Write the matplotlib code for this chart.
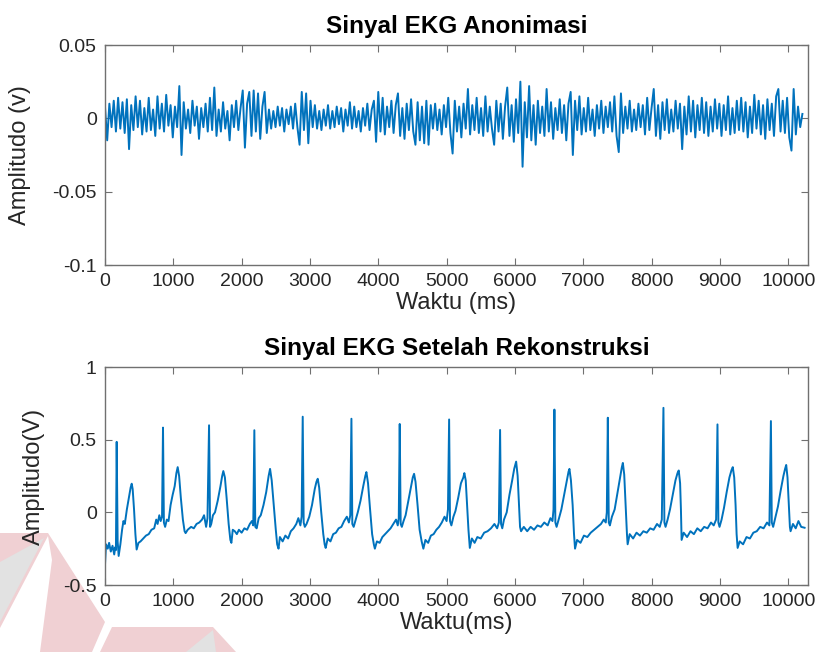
import numpy as np
import matplotlib
matplotlib.use("Agg")
from matplotlib import pyplot as plt
from matplotlib.patches import Polygon

# top: anonymised signal, one sample every 32 ms, values in mV
noise_step = 32
noise_mv = [
    8, -15, 10, -6, 12, -9, 14, -7, 11, -10,
    13, -21, 9, -8, 15, -6, 12, -11, 7, -9,
    14, -8, 6, -12, 15, -7, 10, -9, 16, -5,
    9, -13, 8, -6, 22, -25, 11, -7, 6, -10,
    12, -5, 8, -14, 7, -6, 10, -9, 14, -8,
    21, -12, 6, -9, 11, -7, 5, -15, 9, -6,
    12, -8, 7, 19, -20, 10, 18, -12, 19, -9,
    17, -14, 8, 18, -10, 6, -7, 5, -6, 8,
    -5, 7, -9, 6, -4, 8, -7, 10, -6, -18,
    18, -8, 17, -17, 12, -6, 9, -7, 5, -8,
    6, -5, 9, -7, 5, -6, 8, -4, 7, -9,
    6, -5, 11, -7, 8, -6, 5, -9, 7, -5,
    10, -8, 6, 12, -16, 18, -9, 14, -11, 8,
    -6, 12, -10, 9, 17, -12, 7, -14, 10, -8,
    13, -9, -18, 11, -15, 8, -17, 12, -18, 9,
    -7, 10, -8, 6, -11, 9, -6, 14, -10, -24,
    12, -9, 8, -13, 10, -7, 20, -11, 9, -8,
    14, -10, 7, -12, 15, -9, 8, -7, -18, 12,
    -9, 10, -14, 8, 21, -12, 9, -16, 13, -10,
    25, -33, 11, -13, 22, -15, 9, -18, 12, -10,
    8, -12, 20, -9, 11, -14, 7, -8, 13, -10,
    9, -15, 10, 18, -25, 12, -8, 15, -11, 7,
    -9, 14, -8, 6, -12, 9, -7, 12, -10, 8,
    -6, 11, -9, 15, -12, -23, 17, -10, 8, -7,
    12, -9, 6, -8, 10, -6, 9, -11, 14, -8,
    7, 20, -12, 9, -14, 11, -8, 13, -10, 6,
    -9, 12, -7, 10, -21, 8, -11, 15, -9, 12,
    -13, 9, -8, 14, -10, 11, -12, 8, -9, 13,
    -7, 10, -12, 9, -8, 15, -11, 7, -10, 12,
    -8, 14, -9, 11, -13, 8, -10, 16, -7, 12,
    -11, 9, -14, 13, -8, 10, -12, 15, 20, -9,
    12, -10, 14, -13, -22, 20, -11, 8, -6, 3,
]

# bottom: reconstructed ECG, (time ms, amplitude V)
ecg_t = [
    0, 15, 40, 60, 85, 110, 135, 150, 160,
    171, 185, 200, 225, 250, 270, 290, 320, 350, 375, 391, 405, 425, 445, 463,
    490, 520, 560, 600, 640, 680, 720, 750, 770, 795, 815, 835,
    849, 862, 880, 905, 930, 960, 990, 1020, 1045, 1064, 1085, 1110, 1140,
    1165, 1180, 1210, 1260, 1300, 1340, 1380, 1420, 1450, 1480, 1500,
    1523, 1538, 1555, 1580, 1610, 1650, 1690, 1715, 1732, 1755, 1780, 1810,
    1835, 1850, 1870, 1900, 1930, 1960, 2000, 2040, 2080, 2120, 2150, 2170,
    2186, 2200, 2220, 2250, 2280, 2320, 2360, 2395, 2416, 2440, 2470, 2500,
    2520, 2540, 2560, 2600, 2640, 2680, 2720, 2760, 2800, 2830, 2860, 2878,
    2894, 2908, 2925, 2950, 2990, 3030, 3070, 3095, 3114, 3135, 3165, 3195,
    3215, 3230, 3260, 3300, 3340, 3380, 3420, 3460, 3500, 3540, 3570, 3590,
    3607, 3620, 3640, 3670, 3700, 3740, 3780, 3810, 3826, 3850, 3880, 3910,
    3935, 3950, 3980, 4020, 4060, 4100, 4140, 4180, 4220, 4260, 4285, 4300,
    4314, 4328, 4345, 4370, 4400, 4440, 4480, 4505, 4524, 4545, 4575, 4605,
    4635, 4660, 4690, 4730, 4770, 4810, 4850, 4890, 4930, 4970, 5000, 5020,
    5037, 5050, 5070, 5100, 5130, 5170, 5210, 5245, 5260, 5280, 5300, 5320,
    5340, 5370, 5410, 5450, 5500, 5550, 5600, 5650, 5700, 5740, 5765,
    5783, 5797, 5815, 5840, 5880, 5920, 5960, 5990, 6018, 6040, 6060, 6075,
    6090, 6130, 6180, 6230, 6280, 6330, 6380, 6430, 6480, 6520, 6550, 6565,
    6578, 6592, 6610, 6640, 6680, 6720, 6760, 6785, 6798, 6820, 6845, 6865,
    6880, 6910, 6960, 7010, 7060, 7110, 7160, 7210, 7260, 7300, 7330, 7345,
    7360, 7374, 7390, 7420, 7460, 7500, 7540, 7565, 7580, 7600, 7620, 7640,
    7650, 7680, 7730, 7780, 7830, 7880, 7930, 7980, 8030, 8080, 8120, 8150,
    8174, 8188, 8205, 8235, 8270, 8310, 8350, 8380, 8398, 8418, 8430,
    8440, 8470, 8520, 8570, 8620, 8670, 8720, 8770, 8820, 8870, 8910, 8945,
    8965, 8978, 8995, 9025, 9060, 9100, 9140, 9170, 9189, 9210, 9230, 9245,
    9260, 9290, 9340, 9390, 9440, 9490, 9540, 9590, 9640, 9690, 9725,
    9747, 9760, 9780, 9810, 9850, 9890, 9930, 9955, 9971, 9990, 10010, 10025,
    10035, 10070, 10110, 10150, 10190, 10240,
]
ecg_v = [
    -0.36, -0.22, -0.25, -0.21, -0.27, -0.23, -0.29, -0.24, -0.26,
    0.485, -0.20, -0.30, -0.22, -0.12, -0.06, -0.08, 0.02, 0.10, 0.17, 0.197, 0.16, 0.02, -0.15, -0.256,
    -0.21, -0.20, -0.18, -0.16, -0.15, -0.12, -0.11, -0.05, -0.08, -0.02, -0.06, -0.03,
    0.583, -0.07, -0.10, -0.05, -0.06, 0.05, 0.12, 0.18, 0.27, 0.311, 0.25, 0.10, -0.05,
    -0.13, -0.143, -0.12, -0.10, -0.11, -0.08, -0.07, -0.05, -0.02, -0.10, -0.04,
    0.599, -0.10, -0.08, -0.02, 0.00, 0.08, 0.18, 0.25, 0.284, 0.24, 0.10, -0.08,
    -0.19, -0.21, -0.12, -0.13, -0.15, -0.12, -0.14, -0.11, -0.12, -0.08, -0.06, -0.09,
    0.565, -0.10, -0.11, -0.04, -0.02, 0.05, 0.14, 0.25, 0.299, 0.22, 0.05, -0.12,
    -0.22, -0.25, -0.17, -0.20, -0.16, -0.18, -0.13, -0.11, -0.08, -0.04, -0.09, -0.03,
    0.658, -0.07, -0.10, -0.08, -0.03, 0.05, 0.16, 0.21, 0.231, 0.17, 0.00, -0.15,
    -0.22, -0.245, -0.18, -0.20, -0.15, -0.14, -0.11, -0.10, -0.06, -0.03, -0.07, -0.02,
    0.644, -0.08, -0.10, -0.05, 0.00, 0.08, 0.18, 0.25, 0.277, 0.20, 0.02, -0.15,
    -0.22, -0.25, -0.20, -0.21, -0.17, -0.15, -0.13, -0.11, -0.08, -0.05, -0.09, -0.04,
    0.608, -0.08, -0.10, -0.06, -0.02, 0.08, 0.18, 0.24, 0.265, 0.21, 0.05, -0.12,
    -0.20, -0.25, -0.19, -0.21, -0.16, -0.15, -0.12, -0.10, -0.07, -0.03, -0.06, 0.02,
    0.639, -0.06, -0.09, -0.03, 0.01, 0.10, 0.20, 0.24, 0.27, 0.22, 0.05, -0.12,
    -0.245, -0.18, -0.21, -0.17, -0.18, -0.14, -0.13, -0.11, -0.08, -0.11, -0.07,
    0.567, -0.08, -0.11, -0.05, 0.00, 0.12, 0.22, 0.30, 0.349, 0.25, 0.05, -0.10,
    -0.13, -0.10, -0.13, -0.10, -0.12, -0.09, -0.10, -0.07, -0.09, -0.04, -0.06, 0.02,
    0.707, -0.07, -0.10, -0.05, 0.02, 0.12, 0.22, 0.28, 0.299, 0.22, 0.05, -0.15,
    -0.25, -0.19, -0.21, -0.16, -0.17, -0.14, -0.12, -0.10, -0.08, -0.05, -0.07, 0.00,
    0.651, -0.07, -0.09, -0.03, 0.02, 0.13, 0.24, 0.31, 0.34, 0.26, 0.06, -0.15,
    -0.22, -0.15, -0.18, -0.14, -0.16, -0.13, -0.14, -0.11, -0.12, -0.08, -0.10, -0.05,
    0.719, -0.07, -0.10, -0.05, 0.02, 0.12, 0.22, 0.27, 0.288, 0.20, 0.02,
    -0.19, -0.14, -0.17, -0.13, -0.15, -0.11, -0.13, -0.10, -0.11, -0.07, -0.09, -0.05,
    0.605, -0.07, -0.10, -0.05, 0.03, 0.14, 0.24, 0.29, 0.311, 0.24, 0.05, -0.15,
    -0.245, -0.20, -0.22, -0.17, -0.18, -0.14, -0.13, -0.10, -0.11, -0.07, -0.09,
    0.628, -0.07, -0.10, -0.04, 0.04, 0.15, 0.25, 0.30, 0.326, 0.24, 0.05, -0.10,
    -0.13, -0.08, -0.11, -0.06, -0.10, -0.106,
]

xticks = list(range(0, 10001, 1000))
top_yticks = [-0.1, -0.05, 0, 0.05]
top_ylabels = ["-0.1", "-0.05", "0", "0.05"]
bot_yticks = [-0.5, 0, 0.5, 1]
bot_ylabels = ["-0.5", "0", "0.5", "1"]

line_col = "#0072BD"
txt_col = "#262626"
box_col = "#707070"
plt.rcParams["font.family"] = ["Liberation Sans", "DejaVu Sans"]

fig = plt.figure(figsize=(8.24, 6.52), dpi=100)

# watermark shapes in the lower left corner (pixel coords, y from top)
def px(pts):
    return [(x / 824, 1 - y / 652) for x, y in pts]

for pts, col in [
    ([(0, 533), (48, 533), (105, 622), (92, 652), (0, 652)], "#f0d0d3"),
    ([(44, 538), (0, 562), (0, 622)], "#e2e2e2"),
    ([(48, 536), (0, 628), (0, 652), (40, 652), (52, 560)], "white"),
    ([(112, 627), (213, 627), (236, 652), (100, 652)], "#f0d0d3"),
    ([(213, 630), (186, 652), (216, 652)], "#e2e2e2"),
]:
    fig.patches.append(Polygon(px(pts), closed=True, transform=fig.transFigure,
                               facecolor=col, edgecolor="none", zorder=-5))

ax1 = fig.add_axes([105 / 824, 1 - 265 / 652, 703 / 824, 220 / 652])
ax2 = fig.add_axes([105 / 824, 1 - 585 / 652, 703 / 824, 218 / 652])

t_noise = np.arange(len(noise_mv)) * noise_step
ax1.plot(t_noise, np.array(noise_mv) / 1000.0, color=line_col, lw=1.4)
ax2.plot(ecg_t, ecg_v, color=line_col, lw=1.4)

for ax, yt, yl in [(ax1, top_yticks, top_ylabels), (ax2, bot_yticks, bot_ylabels)]:
    ax.set_facecolor("none")
    ax.set_xlim(0, 10290)
    ax.set_xticks(xticks)
    ax.set_xticklabels([str(v) for v in xticks])
    ax.set_yticks(yt)
    ax.set_yticklabels(yl)
    ax.set_ylim(yt[0], yt[-1])
    ax.tick_params(direction="in", length=5, width=0.8, top=True, right=True,
                   colors=box_col, labelcolor=txt_col, labelsize=14, pad=6)
    for s in ax.spines.values():
        s.set_color(box_col)
        s.set_linewidth(1.0)

ax1.set_title("Sinyal EKG Anonimasi", fontsize=17.5, fontweight="bold", color="black", pad=9)
ax2.set_title("Sinyal EKG Setelah Rekonstruksi", fontsize=17.5, fontweight="bold", color="black", pad=9)
ax1.set_xlabel("Waktu (ms)", fontsize=17, color=txt_col, labelpad=1)
ax2.set_xlabel("Waktu(ms)", fontsize=17, color=txt_col, labelpad=1)
ax1.set_ylabel("Amplitudo (v)", fontsize=17, color=txt_col)
ax2.set_ylabel("Amplitudo(V)", fontsize=17, color=txt_col)
ax1.yaxis.set_label_coords(-0.105, 0.5)
ax2.yaxis.set_label_coords(-0.085, 0.5)

fig.savefig("out.png", dpi=100)
